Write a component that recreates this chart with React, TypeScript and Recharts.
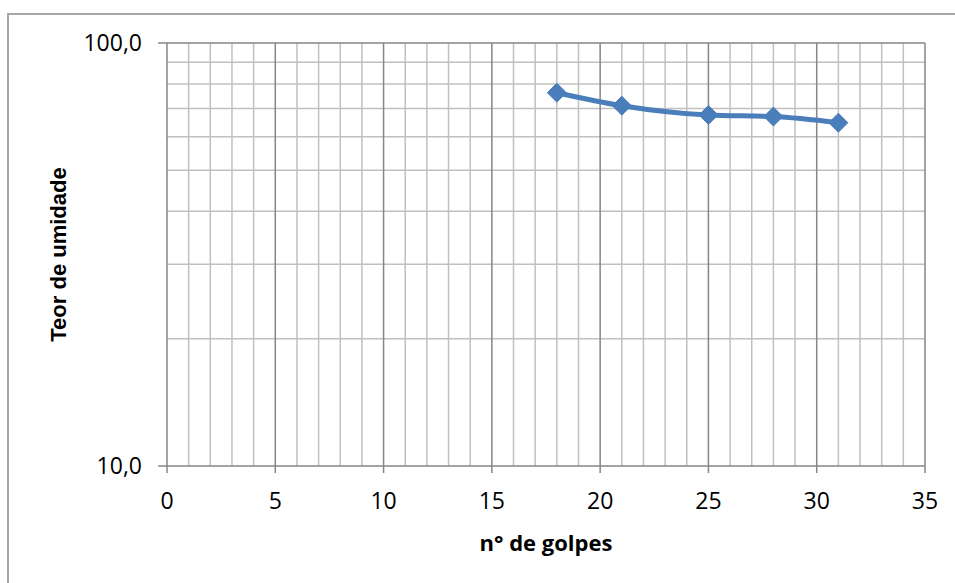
import { LineChart, Line, XAxis, YAxis, ReferenceLine, Label } from "recharts";

// golpes x teor de umidade (%)
const golpes = [18, 21, 25, 28, 31];
const umidade = [76.3, 71.1, 67.6, 67.0, 64.8];

const xTicks = [0, 5, 10, 15, 20, 25, 30, 35];
const yTicks = [10, 100];
const xMinor = [1, 2, 3, 4, 6, 7, 8, 9, 11, 12, 13, 14, 16, 17, 18, 19, 21, 22, 23, 24, 26, 27, 28, 29, 31, 32, 33, 34];
const xMajor = [5, 10, 15, 20, 25, 30, 35];
const yMinor = [20, 30, 40, 50, 60, 70, 80, 90];

const data = golpes.map((g, i) => ({ golpes: g, umidade: umidade[i] }));

const AXIS = "#868686";
const MINOR = "#c0c0c0";
const BLUE = "#4a7ebb";
const FONT = "'Open Sans', sans-serif";

function Diamond(props: any) {
  const { cx, cy } = props;
  if (cx == null || cy == null) return null;
  const r = 9.5;
  return (
    <polygon
      points={`${cx},${cy - r} ${cx + r},${cy} ${cx},${cy + r} ${cx - r},${cy}`}
      fill={BLUE}
      stroke={BLUE}
      strokeWidth={1}
    />
  );
}

export default function App() {
  return (
    <div style={{ position: "fixed", left: 0, top: 0, width: 955, height: 583, background: "#fff", overflow: "hidden" }}>
      <div
        style={{
          position: "absolute",
          left: 7,
          top: 13,
          width: 1000,
          height: 700,
          borderLeft: "2px solid #a6a6a6",
          borderTop: "2px solid #a6a6a6",
        }}
      />
      <div style={{ position: "absolute", left: 0, top: 0 }}>
        <LineChart width={955} height={583} data={data} margin={{ top: 43, right: 30, left: 0, bottom: 0 }}>
          {yMinor.map(v => (
            <ReferenceLine key={`h${v}`} y={v} stroke={MINOR} strokeWidth={1.5} />
          ))}
          {xMinor.map(v => (
            <ReferenceLine key={`v${v}`} x={v} stroke={MINOR} strokeWidth={1.5} />
          ))}
          {xMajor.map(v => (
            <ReferenceLine key={`m${v}`} x={v} stroke={AXIS} strokeWidth={1.5} />
          ))}
          <ReferenceLine y={100} stroke={AXIS} strokeWidth={1.5} />
          <XAxis
            dataKey="golpes"
            type="number"
            domain={[0, 35]}
            ticks={xTicks}
            interval={0}
            height={117}
            stroke={AXIS}
            strokeWidth={1.5}
            tickSize={7}
            tickMargin={20}
            tick={{ fill: "#000", fontSize: 23, fontFamily: FONT }}
          >
            <Label
              content={(p: any) => {
                const vb = p.viewBox;
                return (
                  <text
                    x={vb.x + vb.width / 2}
                    y={vb.y + 76}
                    textAnchor="middle"
                    dominantBaseline="central"
                    fontFamily={FONT}
                    fontWeight="bold"
                    fontSize={22}
                    fill="#000"
                  >
                    n° de golpes
                  </text>
                );
              }}
            />
          </XAxis>
          <YAxis
            dataKey="umidade"
            scale="log"
            domain={[10, 100]}
            ticks={yTicks}
            interval={0}
            allowDataOverflow
            width={167}
            stroke={AXIS}
            strokeWidth={1.5}
            tickSize={9}
            tickMargin={16}
            tickFormatter={(v: number) => v.toFixed(1).replace(".", ",")}
            tick={{ fill: "#000", fontSize: 23, fontFamily: FONT }}
          >
            <Label
              content={(p: any) => {
                const vb = p.viewBox;
                const cx = 58;
                const cy = vb.y + vb.height / 2;
                return (
                  <text
                    x={cx}
                    y={cy}
                    transform={`rotate(-90 ${cx} ${cy})`}
                    textAnchor="middle"
                    dominantBaseline="central"
                    fontFamily="'Liberation Sans', Arial, sans-serif"
                    fontWeight="bold"
                    fontSize={22}
                    fill="#000"
                  >
                    Teor de umidade
                  </text>
                );
              }}
            />
          </YAxis>
          <Line
            type="monotone"
            dataKey="umidade"
            stroke={BLUE}
            strokeWidth={5}
            dot={<Diamond />}
            activeDot={false}
            isAnimationActive={false}
          />
        </LineChart>
      </div>
    </div>
  );
}
